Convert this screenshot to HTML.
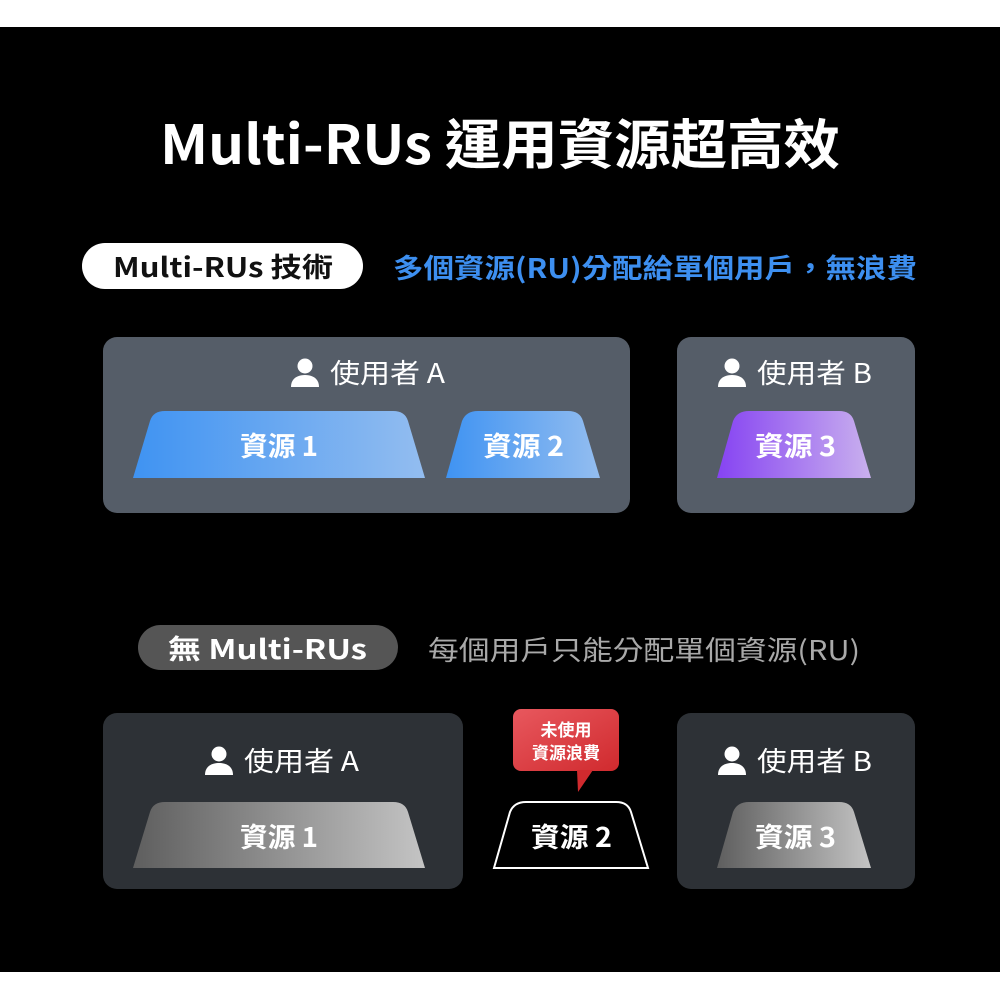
<!DOCTYPE html>
<html><head><meta charset="utf-8"><style>
html,body{margin:0;padding:0;background:#fff;}
svg{display:block;}
text{font-family:"Liberation Sans","Noto Sans CJK TC",sans-serif;}
.cjk{font-family:"Noto Sans CJK TC","Liberation Sans",sans-serif;}
</style></head><body>
<svg width="1000" height="1000" viewBox="0 0 1000 1000" xmlns="http://www.w3.org/2000/svg">
<defs>
<linearGradient id="gb" x1="0" x2="1" y1="0" y2="0"><stop offset="0" stop-color="#3f93f2"/><stop offset="1" stop-color="#93bdf0"/></linearGradient>
<linearGradient id="gp" x1="0" x2="1" y1="0" y2="0"><stop offset="0" stop-color="#8643f2"/><stop offset="1" stop-color="#c9b0ee"/></linearGradient>
<linearGradient id="gg" x1="0" x2="1" y1="0" y2="0"><stop offset="0" stop-color="#5e5e5e"/><stop offset="1" stop-color="#c4c4c4"/></linearGradient>
<linearGradient id="gr" x1="0" x2="1" y1="0" y2="1"><stop offset="0" stop-color="#e8585e"/><stop offset="1" stop-color="#d02a2e"/></linearGradient>
<symbol id="person" viewBox="0 0 30 30"><circle cx="15" cy="9" r="7.5" fill="#fff"/><path d="M1,30 C1,21 8,18 15,18 C22,18 29,21 29,30 Z" fill="#fff"/></symbol>
</defs>
<rect x="0" y="27" width="1000" height="945" fill="#000"/>
<text x="160" y="164" fill="#fff" font-size="54" font-weight="bold" class="cjk" textLength="680" lengthAdjust="spacingAndGlyphs">Multi-RUs 運用資源超高效</text>

<rect x="82" y="243" width="281" height="46" rx="23" fill="#fff"/>
<text x="113" y="277" fill="#111" font-size="27" font-weight="bold" class="cjk" textLength="220" lengthAdjust="spacingAndGlyphs">Multi-RUs 技術</text>
<text x="393" y="278" fill="#3d8ff0" font-size="27" font-weight="bold" class="cjk" textLength="524" lengthAdjust="spacingAndGlyphs">多個資源(RU)分配給單個用戶，無浪費</text>

<rect x="103" y="337" width="527" height="176" rx="14" fill="#555d68"/>
<rect x="677" y="337" width="238" height="176" rx="14" fill="#555d68"/>
<use href="#person" x="290" y="357" width="30" height="30"/>
<text x="330" y="383" fill="#fff" font-size="27" class="cjk" textLength="115" lengthAdjust="spacingAndGlyphs">使用者 A</text>
<use href="#person" x="717" y="357" width="30" height="30"/>
<text x="757" y="383" fill="#fff" font-size="27" class="cjk" textLength="115" lengthAdjust="spacingAndGlyphs">使用者 B</text>

<path d="M133,478 L150,421 Q153,411 165,411 L393,411 Q405,411 408,421 L425,478 Z" fill="url(#gb)"/>
<text x="240" y="456" fill="#fff" font-size="27" font-weight="bold" class="cjk" textLength="78" lengthAdjust="spacingAndGlyphs">資源 1</text>
<path d="M446,478 L462,421 Q466,411 478,411 L568,411 Q580,411 583,421 L600,478 Z" fill="url(#gb)"/>
<text x="483" y="456" fill="#fff" font-size="27" font-weight="bold" class="cjk" textLength="81" lengthAdjust="spacingAndGlyphs">資源 2</text>
<path d="M717,478 L733,421 Q737,411 749,411 L839,411 Q851,411 854,421 L871,478 Z" fill="url(#gp)"/>
<text x="755" y="456" fill="#fff" font-size="27" font-weight="bold" class="cjk" textLength="81" lengthAdjust="spacingAndGlyphs">資源 3</text>

<rect x="138" y="625" width="260" height="45" rx="22.5" fill="#555"/>
<text x="168" y="659" fill="#fff" font-size="27" font-weight="bold" class="cjk" textLength="199" lengthAdjust="spacingAndGlyphs">無 Multi-RUs</text>
<text x="428" y="660" fill="#a9a9a9" font-size="27" class="cjk" textLength="432" lengthAdjust="spacingAndGlyphs">每個用戶只能分配單個資源(RU)</text>

<rect x="103" y="713" width="360" height="176" rx="14" fill="#2d3136"/>
<rect x="677" y="713" width="238" height="176" rx="14" fill="#2d3136"/>
<use href="#person" x="204" y="745" width="30" height="30"/>
<text x="244" y="771" fill="#fff" font-size="27" class="cjk" textLength="115" lengthAdjust="spacingAndGlyphs">使用者 A</text>
<use href="#person" x="717" y="745" width="30" height="30"/>
<text x="757" y="771" fill="#fff" font-size="27" class="cjk" textLength="115" lengthAdjust="spacingAndGlyphs">使用者 B</text>

<path d="M133,868 L150,812 Q153,802 165,802 L393,802 Q405,802 408,812 L425,868 Z" fill="url(#gg)"/>
<text x="240" y="847" fill="#fff" font-size="27" font-weight="bold" class="cjk" textLength="78" lengthAdjust="spacingAndGlyphs">資源 1</text>
<path d="M494,868 L510,812 Q514,802 526,802 L616,802 Q628,802 631,812 L648,868 Z" fill="#000" stroke="#fff" stroke-width="2"/>
<text x="531" y="847" fill="#fff" font-size="27" font-weight="bold" class="cjk" textLength="81" lengthAdjust="spacingAndGlyphs">資源 2</text>
<path d="M717,868 L733,812 Q737,802 749,802 L839,802 Q851,802 854,812 L871,868 Z" fill="url(#gg)"/>
<text x="755" y="847" fill="#fff" font-size="27" font-weight="bold" class="cjk" textLength="81" lengthAdjust="spacingAndGlyphs">資源 3</text>

<rect x="513" y="709" width="106" height="62" rx="8" fill="url(#gr)"/>
<path d="M577,770 L593,770 L578,792 Z" fill="#d02a2e"/>
<text x="566" y="736" text-anchor="middle" fill="#fff" font-size="17" font-weight="bold" class="cjk">未使用</text>
<text x="566" y="759" text-anchor="middle" fill="#fff" font-size="17" font-weight="bold" class="cjk">資源浪費</text>
</svg>
</body></html>
